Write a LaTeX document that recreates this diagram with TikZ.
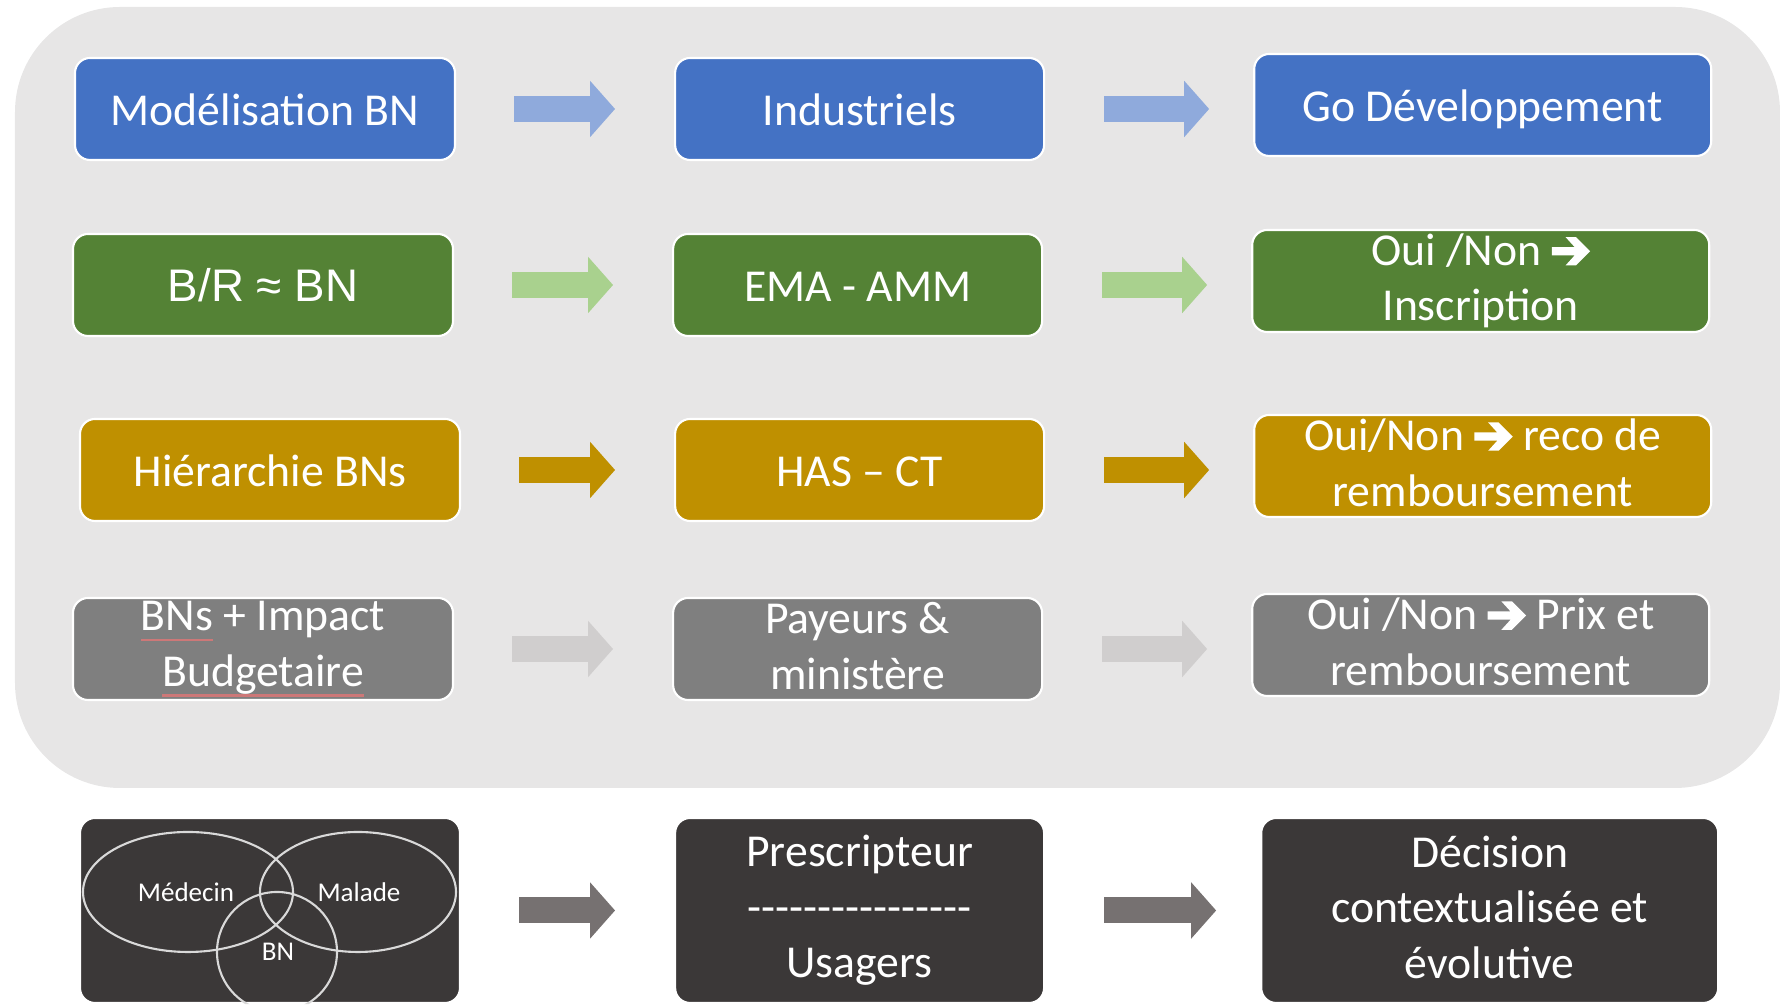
\documentclass[tikz,border=0pt]{standalone}
\usepackage{fontspec}
\setmainfont{Carlito}
\newfontfamily\arialfont{Liberation Sans}
\usetikzlibrary{arrows.meta,positioning}

\definecolor{bgpanel}{HTML}{E7E6E6}
\definecolor{boxblue}{HTML}{4472C4}
\definecolor{boxgreen}{HTML}{548235}
\definecolor{boxgold}{HTML}{BF9000}
\definecolor{boxgray}{HTML}{7F7F7F}
\definecolor{boxdark}{HTML}{3B3838}
\definecolor{arrblue}{HTML}{8FAADC}
\definecolor{arrgreen}{HTML}{A9D18E}
\definecolor{arrgray}{HTML}{D0CECE}
\definecolor{arrdark}{HTML}{767171}
\definecolor{spellred}{RGB}{205,120,120}

% heavy arrow glyph used inside the labels
\newcommand{\fleche}{\tikz[baseline=0pt,sharp corners]\fill[white] (0,0.22em) -- (0.50em,0.22em) -- (0.30em,0em) -- (0.53em,0em) -- (0.84em,0.31em) -- (0.53em,0.62em) -- (0.30em,0.62em) -- (0.50em,0.40em) -- (0,0.40em) -- cycle;}
\newcommand{\spellmark}[1]{\setbox0\hbox{#1}\rlap{\color{spellred}\rule[-3pt]{\wd0}{0.7pt}}\box0\relax}
\newcommand{\tirets}{\foreach \k in {1,...,16}{\mbox{-}}}
\newcommand{\ligne}{\rule[-0.12\baselineskip]{0pt}{0.84\baselineskip}}

\begin{document}
\begin{tikzpicture}[node distance=2.18cm,
	box/.style={rectangle,rounded corners=0.15cm,draw=white,line width=0.6pt,text=white,align=center,inner xsep=2pt,inner ysep=0pt,minimum height=1.02cm,font=\fontsize{13}{15.8}\selectfont,execute at begin node=\ligne,execute at end node=\ligne},
	colA/.style={box,minimum width=3.80cm},
	colB/.style={box,minimum width=3.69cm},
	colC/.style={box,minimum width=4.57cm},
	tall/.style={minimum height=1.85cm},
	flowA/.style={line width=0.26cm,-{Triangle[length=0.25cm,width=0.55cm]},shorten <=0.58cm,shorten >=0.59cm},
	flowB/.style={line width=0.26cm,-{Triangle[length=0.25cm,width=0.55cm]},shorten <=0.59cm,shorten >=0.44cm},
	venn/.style={draw=white!85!black,line width=0.6pt},
	vennlabel/.style={text=white,inner sep=0pt,font=\fontsize{7.7}{9}\selectfont}]
	\useasboundingbox (0,0) rectangle (17.8,10.05);
	\fill[bgpanel,rounded corners=1.05cm] (0.15,2.17) rectangle (17.8,9.98);

	\node[colA,fill=boxblue] (model) at (2.65,8.96) {Modélisation BN};
	\node[colB,fill=boxblue] (indus) [right=of model] {Industriels};
	\node[colC,fill=boxblue] (godev) [right=2.08cm of indus,yshift=0.04cm] {Go Développement};

	\node[colA,fill=boxgreen] (ratio) at (2.63,7.20) {\arialfont B/R ≈ BN};
	\node[colB,fill=boxgreen] (ema) [right=of ratio] {EMA - AMM};
	\node[colC,fill=boxgreen] (inscr) [right=2.08cm of ema,yshift=0.04cm] {Oui /Non \fleche\\Inscription};

	\node[colA,fill=boxgold] (hier) at (2.70,5.35) {Hiérarchie BNs};
	\node[colB,fill=boxgold] (has) [right=2.13cm of hier] {HAS – CT};
	\node[colC,fill=boxgold] (reco) [right=2.08cm of has,yshift=0.04cm] {Oui/Non \fleche{} reco de\\remboursement};

	\node[colA,fill=boxgray] (impact) at (2.63,3.56) {\spellmark{BNs} + Impact\\\spellmark{Budgetaire}};
	\node[colB,fill=boxgray] (payeur) [right=of impact] {Payeurs \&\\ministère};
	\node[colC,fill=boxgray] (prix) [right=2.08cm of payeur,yshift=0.04cm] {Oui /Non \fleche{} Prix et\\remboursement};

	\node[colA,tall,fill=boxdark] (vennbox) at (2.70,0.945) {};
	\node[colB,tall,fill=boxdark] (presc) [right=2.13cm of vennbox] {Prescripteur\\\tirets\\Usagers};
	\node[colC,tall,fill=boxdark] (decis) [right=2.15cm of presc] {Décision\\contextualisée et\\évolutive};

	\begin{scope}
		\clip[rounded corners=0.15cm] (vennbox.south west) rectangle (vennbox.north east);
		\draw[venn] (1.88,1.13) ellipse [x radius=1.05,y radius=0.60];
		\draw[venn] (3.58,1.13) ellipse [x radius=0.98,y radius=0.60];
		\draw[venn] (2.77,0.53) circle [radius=0.60];
	\end{scope}
	\node[vennlabel] (medecin) at (1.86,1.13) {Médecin};
	\node[vennlabel] (malade) at (3.59,1.13) {Malade};
	\node[vennlabel] (bn) at (2.78,0.53) {BN};

	\draw[flowA,arrblue] (model.east) -- (indus.west);
	\draw[flowB,arrblue] (indus.east) -- (indus.east -| godev.west);
	\draw[flowA,arrgreen] (ratio.east) -- (ema.west);
	\draw[flowB,arrgreen] (ema.east) -- (ema.east -| inscr.west);
	\draw[flowA,boxgold] (hier.east) -- (has.west);
	\draw[flowB,boxgold] (has.east) -- (has.east -| reco.west);
	\draw[flowA,arrgray] (impact.east) -- (payeur.west);
	\draw[flowB,arrgray] (payeur.east) -- (payeur.east -| prix.west);
	\draw[flowA,arrdark] (vennbox.east) -- (presc.west);
	\draw[flowB,arrdark] (presc.east) -- (presc.east -| decis.west);
\end{tikzpicture}
\end{document}
